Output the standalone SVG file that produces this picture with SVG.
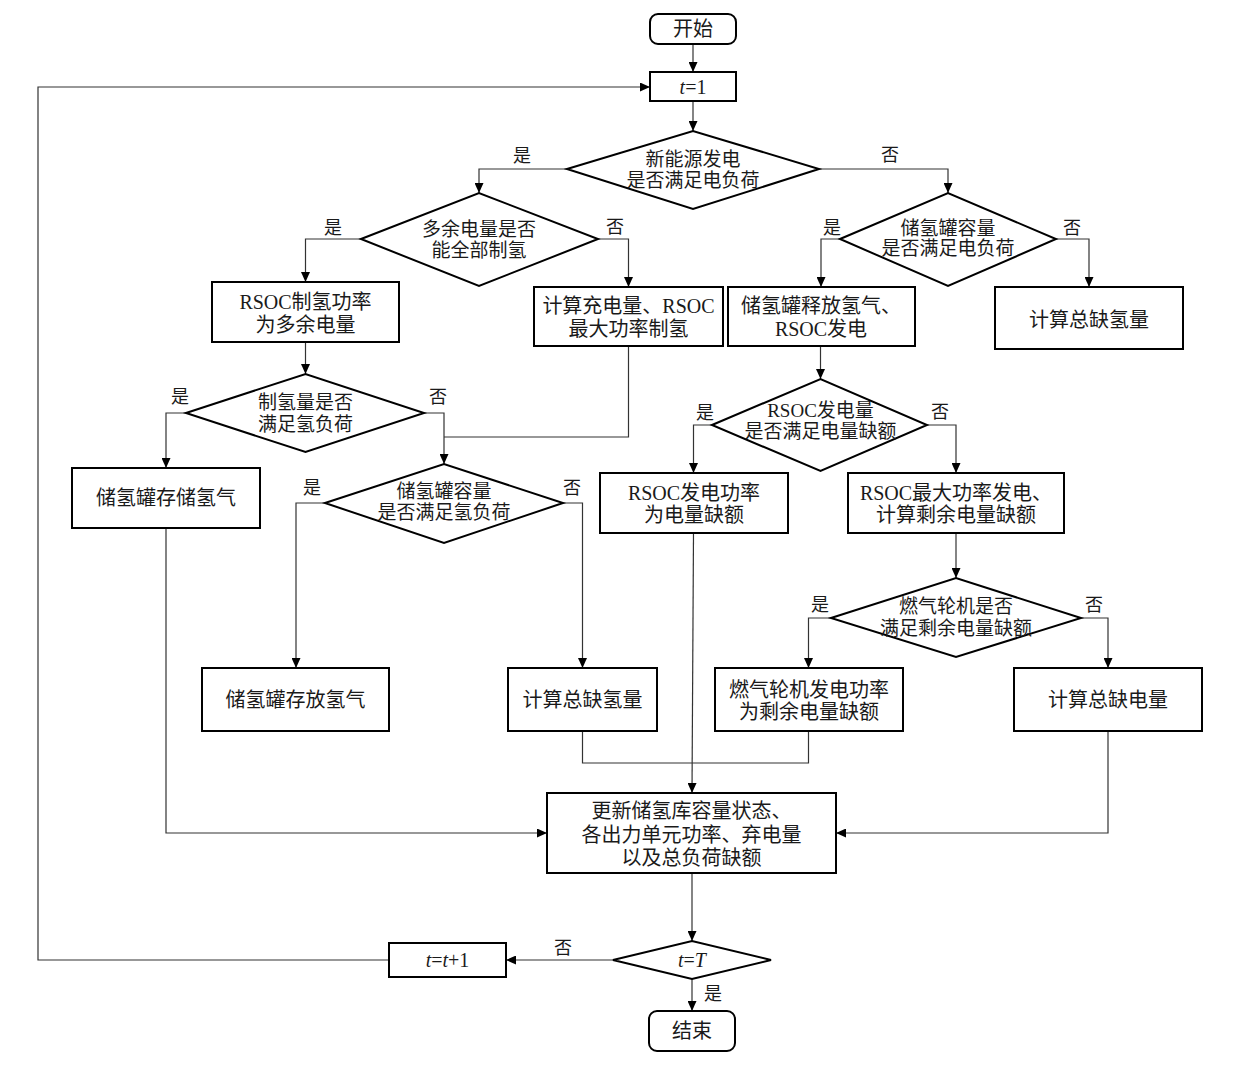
<svg xmlns="http://www.w3.org/2000/svg" width="1235" height="1068" viewBox="0 0 1235 1068">
<style>
.box{fill:#fff;stroke:#000;stroke-width:2}
.dia{fill:#fff;stroke:#000;stroke-width:2}
.t{font-family:"Liberation Serif","Noto Sans CJK SC",serif;font-size:20px;fill:#1a1a1a;text-anchor:middle;dominant-baseline:central}
.dt{font-size:19px}
.lb{font-family:"Liberation Serif","Noto Sans CJK SC",serif;font-size:18px;fill:#1a1a1a;text-anchor:middle;dominant-baseline:central}
.c{fill:none;stroke:#333;stroke-width:1.2}
.a{marker-end:url(#arr)}
.i{font-style:italic}
</style>
<defs>
<marker id="arr" markerUnits="userSpaceOnUse" markerWidth="10" markerHeight="9" refX="10" refY="4.5" orient="auto">
<path d="M0,0 L10,4.5 L0,9 z" fill="#000"/>
</marker>
</defs>
<rect width="1235" height="1068" fill="#fff"/>
<g id="connectors">
<path class="c a" d="M693,44 V72"/>
<path class="c a" d="M693,101 V131"/>
<path class="c a" d="M567,169 H479 V193"/>
<path class="c a" d="M819,169 H948 V193"/>
<path class="c a" d="M361,239 H305.5 V282"/>
<path class="c a" d="M598,239 H628.5 V287"/>
<path class="c a" d="M840,239 H821 V287"/>
<path class="c a" d="M1056,239 H1089 V287"/>
<path class="c a" d="M305.5,342 V374"/>
<path class="c a" d="M186,413 H166 V468"/>
<path class="c a" d="M424,413 H444 V464"/>
<path class="c" d="M628.5,346 V437 H444"/>
<path class="c a" d="M325,503 H296 V668"/>
<path class="c a" d="M563,503 H582.5 V668"/>
<path class="c a" d="M820.5,346 V379"/>
<path class="c a" d="M712,425 H693.5 V473"/>
<path class="c a" d="M927,425 H956 V473"/>
<path class="c a" d="M956,533 V578"/>
<path class="c a" d="M831,618 H808.5 V668"/>
<path class="c a" d="M1081,618 H1108 V668"/>
<path class="c a" d="M166,528 V833 H547"/>
<path class="c" d="M582.5,731 V763 H808.5 V731"/>
<path class="c a" d="M693.5,533 L692,793"/>
<path class="c a" d="M1108,731 V833 H836"/>
<path class="c a" d="M692,873 V941"/>
<path class="c a" d="M692,979 V1011"/>
<path class="c a" d="M613,960 H506"/>
<path class="c a" d="M389,960 H38 V87 H650"/>
</g>
<g id="labels">
<text class="lb" x="522" y="156">是</text>
<text class="lb" x="890" y="155">否</text>
<text class="lb" x="333" y="228">是</text>
<text class="lb" x="615" y="227">否</text>
<text class="lb" x="832" y="228">是</text>
<text class="lb" x="1072" y="228">否</text>
<text class="lb" x="180" y="397">是</text>
<text class="lb" x="438" y="397">否</text>
<text class="lb" x="312" y="488">是</text>
<text class="lb" x="572" y="488">否</text>
<text class="lb" x="705" y="413">是</text>
<text class="lb" x="940" y="412">否</text>
<text class="lb" x="820" y="605">是</text>
<text class="lb" x="1094" y="605">否</text>
<text class="lb" x="563" y="948">否</text>
<text class="lb" x="713" y="994">是</text>
</g>
<g id="start"><rect class="box" x="650" y="14" width="86" height="30" rx="8"/><text class="t" x="693" y="29">开始</text></g>
<g id="t1"><rect class="box" x="650" y="72" width="86" height="29"/><text class="t" x="693" y="86.5"><tspan class="i">t</tspan>=1</text></g>
<g id="d1"><polygon class="dia" points="567,169 693,131 819,169 693,209"/><text class="t dt" x="693" y="159">新能源发电</text><text class="t dt" x="693" y="180">是否满足电负荷</text></g>
<g id="d2"><polygon class="dia" points="840,239 948,193 1056,239 948,286"/><text class="t dt" x="948" y="228">储氢罐容量</text><text class="t dt" x="948" y="248">是否满足电负荷</text></g>
<g id="d3"><polygon class="dia" points="361,239 479,193 598,239 479,286"/><text class="t dt" x="479" y="229">多余电量是否</text><text class="t dt" x="479" y="250">能全部制氢</text></g>
<g id="b_rsoc_h"><rect class="box" x="212" y="282" width="187" height="60"/><text class="t" x="305.5" y="302">RSOC制氢功率</text><text class="t" x="305.5" y="325">为多余电量</text></g>
<g id="b_charge"><rect class="box" x="534" y="287" width="189" height="59"/><text class="t" x="628.5" y="306">计算充电量、RSOC</text><text class="t" x="628.5" y="329">最大功率制氢</text></g>
<g id="b_release"><rect class="box" x="728" y="287" width="187" height="59"/><text class="t" x="821" y="306">储氢罐释放氢气、</text><text class="t" x="821" y="329">RSOC发电</text></g>
<g id="b_lackH_r"><rect class="box" x="995" y="287" width="188" height="62"/><text class="t" x="1089" y="320">计算总缺氢量</text></g>
<g id="d4"><polygon class="dia" points="186,413 305.5,374 424,413 305.5,452"/><text class="t dt" x="305.5" y="402">制氢量是否</text><text class="t dt" x="305.5" y="424">满足氢负荷</text></g>
<g id="b_store"><rect class="box" x="72" y="468" width="188" height="60"/><text class="t" x="166" y="498">储氢罐存储氢气</text></g>
<g id="d5"><polygon class="dia" points="325,503 444,464 563,503 444,543"/><text class="t dt" x="444" y="491">储氢罐容量</text><text class="t dt" x="444" y="512">是否满足氢负荷</text></g>
<g id="d6"><polygon class="dia" points="712,425 820.5,379 927,425 820.5,471"/><text class="t dt" x="820.5" y="410">RSOC发电量</text><text class="t dt" x="820.5" y="431">是否满足电量缺额</text></g>
<g id="b_rsoc_gen"><rect class="box" x="600" y="473" width="188" height="60"/><text class="t" x="694" y="493">RSOC发电功率</text><text class="t" x="694" y="515">为电量缺额</text></g>
<g id="b_rsoc_max"><rect class="box" x="848" y="473" width="216" height="60"/><text class="t" x="956" y="493">RSOC最大功率发电、</text><text class="t" x="956" y="515">计算剩余电量缺额</text></g>
<g id="d7"><polygon class="dia" points="831,618 956,578 1081,618 956,657"/><text class="t dt" x="956" y="606">燃气轮机是否</text><text class="t dt" x="956" y="628">满足剩余电量缺额</text></g>
<g id="b_release2"><rect class="box" x="202" y="668" width="187" height="63"/><text class="t" x="295.5" y="700">储氢罐存放氢气</text></g>
<g id="b_lackH_l"><rect class="box" x="508" y="668" width="149" height="63"/><text class="t" x="582.5" y="700">计算总缺氢量</text></g>
<g id="b_gt"><rect class="box" x="715" y="668" width="188" height="63"/><text class="t" x="809" y="690">燃气轮机发电功率</text><text class="t" x="809" y="712">为剩余电量缺额</text></g>
<g id="b_lackE"><rect class="box" x="1014" y="668" width="188" height="63"/><text class="t" x="1108" y="700">计算总缺电量</text></g>
<g id="b_update"><rect class="box" x="547" y="793" width="289" height="80"/><text class="t" x="691.5" y="811">更新储氢库容量状态、</text><text class="t" x="691.5" y="835">各出力单元功率、弃电量</text><text class="t" x="691.5" y="858">以及总负荷缺额</text></g>
<g id="d8"><polygon class="dia" points="613,960 692,941 771,960 692,979"/><text class="t" x="692" y="960"><tspan class="i">t</tspan>=<tspan class="i">T</tspan></text></g>
<g id="b_tinc"><rect class="box" x="389" y="943" width="117" height="34"/><text class="t" x="447.5" y="960"><tspan class="i">t</tspan>=<tspan class="i">t</tspan>+1</text></g>
<g id="end"><rect class="box" x="649" y="1011" width="86" height="40" rx="8"/><text class="t" x="692" y="1031">结束</text></g>
</svg>
